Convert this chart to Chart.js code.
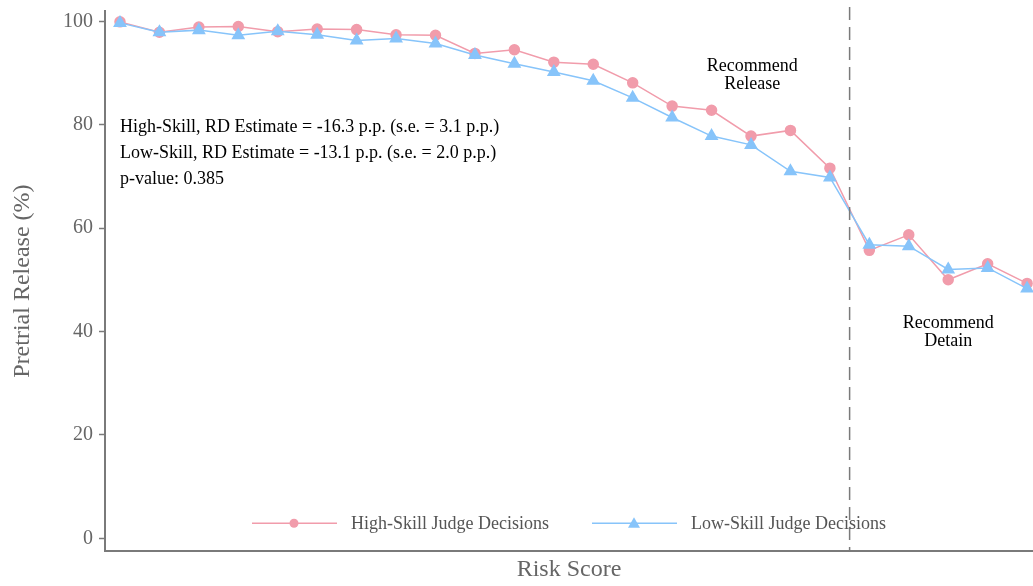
<!DOCTYPE html>
<html>
<head>
<meta charset="utf-8">
<script src="https://cdn.jsdelivr.net/npm/chart.js@4"></script>
<style>
  html, body { margin: 0; padding: 0; background: white; overflow: hidden; }
  #wrap { width: 1033px; height: 586px; }
</style>
</head>
<body>
<div id="wrap"><canvas id="chart"></canvas></div>
<script>
// risk score bins (1..24), cutoff between 19 and 20
const riskScores = [1,2,3,4,5,6,7,8,9,10,11,12,13,14,15,16,17,18,19,20,21,22,23,24];
const highSkill = [99.9,97.9,98.9,99.0,98.0,98.5,98.4,97.4,97.3,93.8,94.5,92.1,91.7,88.1,83.6,82.8,77.8,78.9,71.6,55.7,58.7,50.0,53.1,49.3];
const lowSkill  = [99.7,97.9,98.3,97.3,98.1,97.4,96.3,96.7,95.7,93.5,91.8,90.2,88.5,85.2,81.4,77.8,76.1,71.0,69.8,56.8,56.5,52.0,52.3,48.3];
const seriesLabels = ['High-Skill Judge Decisions', 'Low-Skill Judge Decisions'];
const cutoff = 19.5;

const statLines = [
  'High-Skill, RD Estimate = -16.3 p.p. (s.e. = 3.1 p.p.)',
  'Low-Skill, RD Estimate = -13.1 p.p. (s.e. = 2.0 p.p.)',
  'p-value: 0.385'
];

const pink = '#F19CAB';
const blue = '#87C4FA';
const axisGrey = '#7a7a7a';

Chart.defaults.font.family = "'Liberation Serif', 'Times New Roman', serif";
Chart.defaults.color = '#666666';

function toPoints(vals) {
  return vals.map((v, i) => ({ x: riskScores[i], y: v }));
}

// dashed cutoff + text annotations + legend inside the plot
const overlay = {
  id: 'overlay',
  afterDatasetsDraw: (chart) => {
    const {ctx, chartArea, scales} = chart;
    const xs = scales.x, ys = scales.y;
    ctx.save();

    // cutoff line
    const cx = xs.getPixelForValue(cutoff);
    ctx.strokeStyle = axisGrey;
    ctx.lineWidth = 1.5;
    ctx.setLineDash([13, 7]);
    ctx.beginPath();
    ctx.moveTo(cx, chartArea.top - 4);
    ctx.lineTo(cx, chartArea.bottom);
    ctx.stroke();
    ctx.setLineDash([]);

    // RD estimate text
    ctx.fillStyle = '#000000';
    ctx.font = "18px 'Liberation Serif', serif";
    ctx.textAlign = 'left';
    ctx.textBaseline = 'middle';
    const sx = xs.getPixelForValue(1.0);
    const statY = [79.5, 74.5, 69.5];
    statLines.forEach((t, i) => ctx.fillText(t, sx, ys.getPixelForValue(statY[i])));

    // region labels
    ctx.textAlign = 'center';
    ctx.fillText('Recommend', xs.getPixelForValue(17.03), ys.getPixelForValue(91.3));
    ctx.fillText('Release', xs.getPixelForValue(17.03), ys.getPixelForValue(87.8));
    ctx.fillText('Recommend', xs.getPixelForValue(22.0), ys.getPixelForValue(41.6));
    ctx.fillText('Detain', xs.getPixelForValue(22.0), ys.getPixelForValue(38.1));

    // legend
    const ly = chartArea.bottom - 28;
    const starts = [252, 592];
    chart.data.datasets.forEach((ds, i) => {
      const lx = starts[i];
      ctx.strokeStyle = ds.borderColor;
      ctx.lineWidth = 1.5;
      ctx.beginPath();
      ctx.moveTo(lx, ly);
      ctx.lineTo(lx + 85, ly);
      ctx.stroke();
      ctx.fillStyle = ds.borderColor;
      ctx.beginPath();
      if (ds.pointStyle === 'triangle') {
        ctx.moveTo(lx + 42, ly - 6);
        ctx.lineTo(lx + 48, ly + 4.5);
        ctx.lineTo(lx + 36, ly + 4.5);
        ctx.closePath();
      } else {
        ctx.arc(lx + 42, ly, 4.5, 0, Math.PI * 2);
      }
      ctx.fill();
      ctx.fillStyle = '#555555';
      ctx.textAlign = 'left';
      ctx.fillText(ds.label, lx + 99, ly + 1);
    });

    ctx.restore();
  }
};

new Chart(document.getElementById('chart'), {
  type: 'line',
  data: {
    datasets: [
      {
        label: seriesLabels[0],
        data: toPoints(highSkill),
        borderColor: pink,
        backgroundColor: pink,
        pointStyle: 'circle',
        pointRadius: 5,
        borderWidth: 1.5,
        order: 1, // drawn underneath the low-skill series
      },
      {
        label: seriesLabels[1],
        data: toPoints(lowSkill),
        borderColor: blue,
        backgroundColor: blue,
        pointStyle: 'triangle',
        pointRadius: 6.5,
        borderWidth: 1.5,
        order: 0,
      },
    ]
  },
  options: {
    responsive: true,
    maintainAspectRatio: false,
    animation: false,
    layout: { autoPadding: false, padding: { top: 11, right: 0, left: 0, bottom: 2 } },
    plugins: {
      legend: { display: false },
      tooltip: { enabled: false },
    },
    elements: { line: { tension: 0 } },
    scales: {
      x: {
        type: 'linear',
        min: 0.62,
        max: 24.15,
        ticks: { display: false },
        grid: { display: false, drawTicks: false },
        border: { display: true, color: axisGrey, width: 2 },
        title: {
          display: true,
          text: 'Risk Score',
          color: '#666666',
          font: { size: 24 },
          padding: { top: 4, bottom: 0 },
        }
      },
      y: {
        min: -2.5,
        max: 102,
        afterFit: (scale) => {
          scale.width = 105;
          scale.paddingTop = 0;
          scale.paddingBottom = 0;
        },
        afterBuildTicks: (scale) => {
          scale.ticks = [0, 20, 40, 60, 80, 100].map(v => ({ value: v }));
        },
        ticks: { font: { size: 20 }, color: '#666666', padding: 6 },
        grid: { display: true, drawOnChartArea: false, drawTicks: true, tickLength: 6, color: axisGrey, tickWidth: 1.5 },
        border: { display: true, color: axisGrey, width: 2 },
        title: {
          display: true,
          text: 'Pretrial Release (%)',
          color: '#666666',
          font: { size: 24 },
          padding: { top: 8, bottom: 0 },
        }
      }
    }
  },
  plugins: [ overlay ]
});
</script>
</body>
</html>
